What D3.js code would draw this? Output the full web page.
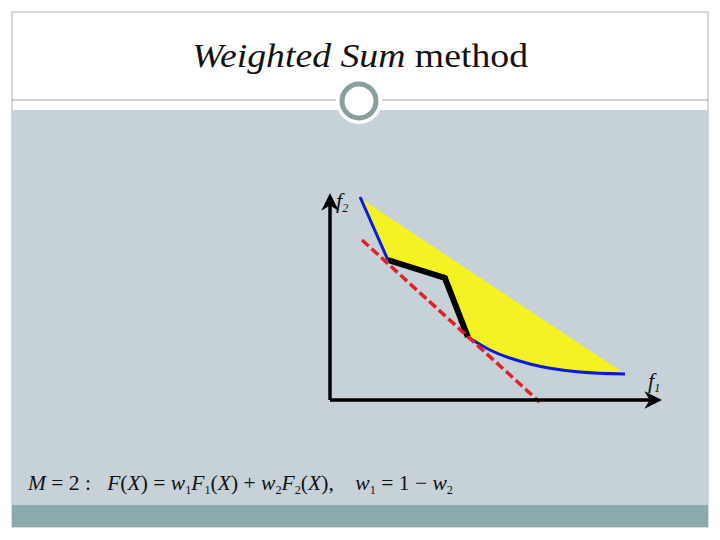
<!DOCTYPE html>
<html><head><meta charset="utf-8">
<script src="https://cdn.jsdelivr.net/npm/d3@7"></script>
<style>body{margin:0;background:#fff}svg{display:block}text{white-space:pre}</style>
</head><body>
<script>
// data (f1, f2 in arbitrary objective units)
const frontUpper = [[0.94, 10.15], [1.81, 7.0]];
const nonConvex = [[1.81, 7.0], [3.59, 6.1], [4.31, 3.15]];
const frontLower = [[4.31, 3.15], [5.0, 2.5], [6.25, 1.8], [7.81, 1.4], [9.22, 1.3]];
const weightLine = [[1.0, 8.0], [6.55, -0.1]];
const feasible = [[1.03, 10.0], [1.81, 7.0], [3.59, 6.1], [4.31, 3.15], [5.0, 2.5], [6.25, 1.8], [7.81, 1.4], [9.13, 1.4]];

const w = 720, h = 540;
const svg = d3.select("body").append("svg").attr("width", w).attr("height", h);

// slide frame
svg.append("rect").attr("x", 12).attr("y", 12).attr("width", 696).attr("height", 515)
  .attr("fill", "#fff").attr("stroke", "#aab8b8");
svg.append("rect").attr("x", 12).attr("y", 110).attr("width", 696).attr("height", 395).attr("fill", "#c6d1d8");
svg.append("rect").attr("x", 12).attr("y", 505).attr("width", 696).attr("height", 22).attr("fill", "#8aaaab");
svg.append("line").attr("x1", 12).attr("x2", 708).attr("y1", 100).attr("y2", 100).attr("stroke", "#9aaaa8");
svg.append("circle").attr("cx", 359).attr("cy", 101).attr("r", 23).attr("fill", "#fff");
svg.append("circle").attr("cx", 359).attr("cy", 101).attr("r", 17).attr("fill", "#fff")
  .attr("stroke", "#8a9e9e").attr("stroke-width", 5);

const title = svg.append("text").attr("x", 192).attr("y", 67)
  .attr("textLength", 336).attr("lengthAdjust", "spacingAndGlyphs")
  .attr("font-family", "Liberation Serif").attr("font-size", 34).attr("fill", "#111");
title.append("tspan").attr("font-style", "italic").text("Weighted Sum");
title.append("tspan").text(" method");

// scales
const x = d3.scaleLinear().domain([0, 10]).range([330, 650]);
const y = d3.scaleLinear().domain([0, 10]).range([400, 200]);
const line = d3.line().x(d => x(d[0])).y(d => y(d[1]));
const curve = d3.line().x(d => x(d[0])).y(d => y(d[1])).curve(d3.curveMonotoneX);

svg.append("path").attr("d", line(feasible) + "Z").attr("fill", "#f5f224");

svg.append("path").attr("d", line(frontUpper)).attr("fill", "none").attr("stroke", "#0a1adc").attr("stroke-width", 3);
svg.append("path").attr("d", curve(frontLower)).attr("fill", "none").attr("stroke", "#0a1adc").attr("stroke-width", 3);
svg.append("path").attr("d", line(nonConvex)).attr("fill", "none").attr("stroke", "#000")
  .attr("stroke-width", 6).attr("stroke-linejoin", "miter");
svg.append("path").attr("d", line(weightLine)).attr("fill", "none").attr("stroke", "#e0202a")
  .attr("stroke-width", 3.5).attr("stroke-dasharray", "9,4");

// axes
const defs = svg.append("defs");
defs.append("marker").attr("id", "arr").attr("viewBox", "0 0 10 10").attr("refX", 5).attr("refY", 5)
  .attr("markerWidth", 5).attr("markerHeight", 5).attr("orient", "auto")
  .append("path").attr("d", "M0,0L10,5L0,10L3,5Z").attr("fill", "#000");
svg.append("line").attr("x1", x(0)).attr("y1", y(0)).attr("x2", x(10.1)).attr("y2", y(0))
  .attr("stroke", "#000").attr("stroke-width", 3.5).attr("marker-end", "url(#arr)");
svg.append("line").attr("x1", x(0)).attr("y1", y(0)).attr("x2", x(0)).attr("y2", y(9.9))
  .attr("stroke", "#000").attr("stroke-width", 3.5).attr("marker-end", "url(#arr)");

const lab = (tx, ty, sub) => {
  const t = svg.append("text").attr("x", tx).attr("y", ty).attr("font-family", "Liberation Serif")
    .attr("font-style", "italic").attr("font-size", 22).attr("fill", "#111");
  t.append("tspan").text("f");
  t.append("tspan").attr("font-size", 12).attr("dy", 4).text(sub);
};
lab(336, 208, "2");
lab(648, 388, "1");

// formula
const f = svg.append("text").attr("x", 28).attr("y", 490).attr("font-family", "Liberation Serif")
  .attr("textLength", 425).attr("lengthAdjust", "spacingAndGlyphs")
  .attr("font-size", 21).attr("fill", "#111");
const parts = [
  ["M", 1], [" = 2 :   ", 0], ["F", 1], ["(", 0], ["X", 1], [") = ", 0],
  ["w", 1], ["1", 2], ["F", 1], ["1", 2], ["(", 0], ["X", 1], [") + ", 0],
  ["w", 1], ["2", 2], ["F", 1], ["2", 2], ["(", 0], ["X", 1], ["),    ", 0],
  ["w", 1], ["1", 2], [" = 1 − ", 0], ["w", 1], ["2", 2]
];
let sub = false;
parts.forEach(([s, k]) => {
  const t = f.append("tspan").text(s);
  if (k === 1) t.attr("font-style", "italic");
  if (k === 2) { t.attr("font-size", 12).attr("dy", sub ? 0 : 4); sub = true; }
  else if (sub) { t.attr("dy", -4); sub = false; }
});
</script>
</body></html>
